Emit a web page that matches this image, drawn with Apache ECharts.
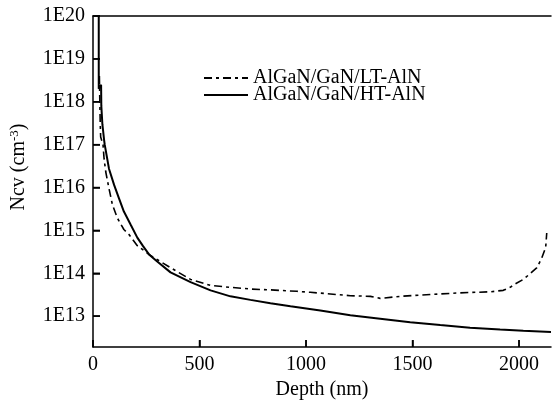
<!DOCTYPE html>
<html>
<head>
<meta charset="utf-8">
<script src="https://cdn.jsdelivr.net/npm/echarts@6/dist/echarts.min.js"></script>
<style>
  html, body { margin: 0; padding: 0; background: #fff; }
  #chart { width: 555px; height: 405px; }
</style>
</head>
<body>
<div id="chart"></div>
<script>
  // depth in nm, Ncv in cm^-3
  var ltDepth = [30, 32, 34, 36, 47, 52, 60, 75, 91, 114, 145, 169, 208, 232, 270, 364, 458, 552, 645, 739, 833, 958, 1020, 1114, 1208, 1302, 1348, 1442, 1583, 1723, 1864, 1926, 1958, 1981, 2020, 2042, 2084, 2107, 2125, 2130]
  var ltNcv = [4e18, 1e18, 3e17, 1.5e17, 1e17, 4.7e16, 2.3e16, 9.5e15, 4e15, 1.95e15, 1.05e15, 8e14, 4.4e14, 3.6e14, 2.6e14, 1.35e14, 7.2e13, 5.2e13, 4.7e13, 4.3e13, 4.1e13, 3.8e13, 3.6e13, 3.3e13, 3.0e13, 2.9e13, 2.6e13, 2.9e13, 3.2e13, 3.5e13, 3.7e13, 4e13, 4.7e13, 5.6e13, 7.2e13, 8.9e13, 1.35e14, 2.3e14, 4e14, 8.7e14]
  var htDepth = [27, 27, 38, 39, 44, 52, 55, 75, 99, 122, 145, 177, 208, 235, 263, 300, 364, 458, 552, 645, 739, 833, 927, 1067, 1208, 1348, 1489, 1630, 1770, 1911, 2020, 2150]
  var htNcv = [1e20, 2e18, 2.5e18, 8e17, 3e17, 1.3e17, 1e17, 2.75e16, 1.15e16, 5.6e15, 2.75e15, 1.35e15, 6.8e14, 4.3e14, 2.75e14, 1.9e14, 1.05e14, 6.2e13, 4e13, 2.9e13, 2.4e13, 2e13, 1.7e13, 1.35e13, 1.05e13, 8.7e12, 7.2e12, 6.2e12, 5.4e12, 4.9e12, 4.6e12, 4.3e12]
  var xTicks = [0, 500, 1000, 1500, 2000]
  var yTicks = [1e13, 1e14, 1e15, 1e16, 1e17, 1e18, 1e19, 1e20]
  var seriesNames = ['AlGaN/GaN/LT-AlN', 'AlGaN/GaN/HT-AlN']
  var xMax = 2150
  var yMin = 1.9e12
  var yMax = 1e20

  function pairs(xs, ys) {
    return xs.map(function (x, i) { return [x, ys[i]] })
  }

  var font = "'Liberation Serif', 'Times New Roman', serif"

  var myChart = echarts.init(document.getElementById('chart'))
  var legendBase = {
    orient: 'vertical',
    padding: 0,
    itemWidth: 44, itemHeight: 14,
    itemStyle: { opacity: 0 },
    textStyle: { fontFamily: font, fontSize: 20, color: '#000' }
  }
  var option = {
    animation: false,
    textStyle: { fontFamily: font, color: '#000' },
    grid: { left: 93, top: 16, right: 4, bottom: 54 },
    legend: [
      Object.assign({ data: [seriesNames[0]], left: 203, top: 68 }, legendBase),
      Object.assign({ data: [seriesNames[1]], left: 203, top: 85 }, legendBase)
    ],
    xAxis: [
      {
        type: 'value', min: 0, max: xMax, interval: 500,
        name: 'Depth (nm)', nameLocation: 'middle', nameGap: 25,
        nameTextStyle: { fontFamily: font, fontSize: 20, color: '#000' },
        axisLine: { lineStyle: { color: '#000', width: 1.5 } },
        axisTick: { show: true, inside: true, length: 7, lineStyle: { color: '#000', width: 1.5 } },
        axisLabel: {
          showMaxLabel: false, margin: 8, fontFamily: font, fontSize: 20, color: '#000',
          formatter: function (value) {
            return xTicks.indexOf(value) >= 0 ? String(value) : ''
          }
        },
        splitLine: { show: false }
      },
      {
        type: 'value', min: 0, max: xMax, position: 'top',
        axisLine: { show: true, onZero: false, lineStyle: { color: '#000', width: 1.5 } },
        axisTick: { show: false },
        axisLabel: { show: false },
        splitLine: { show: false }
      }
    ],
    yAxis: {
      type: 'log', logBase: 10, min: yMin, max: yMax,
      axisLine: { show: true, lineStyle: { color: '#000', width: 1.5 } },
      axisTick: { show: true, inside: true, length: 7, lineStyle: { color: '#000', width: 1.5 } },
      axisLabel: {
        showMinLabel: false, margin: 8, fontFamily: font, fontSize: 20, color: '#000',
        formatter: function (value) {
          var e = Math.log10(value)
          return Math.abs(e - Math.round(e)) < 1e-6 ? '1E' + Math.round(e) : ''
        }
      },
      splitLine: { show: false }
    },
    graphic: [
      {
        type: 'text', x: 19, y: 167, rotation: Math.PI / 2,
        style: {
          text: '{a|Ncv (cm}{s|-3}{a|)}',
          align: 'center', verticalAlign: 'middle',
          fill: '#000',
          rich: {
            a: { fontFamily: font, fontSize: 20, lineHeight: 22, fill: '#000' },
            s: { fontFamily: font, fontSize: 13, verticalAlign: 'top', fill: '#000' }
          }
        }
      }
    ],
    series: [
      {
        name: seriesNames[0], type: 'line', symbol: 'none', showSymbol: false,
        data: pairs(ltDepth, ltNcv),
        itemStyle: { color: '#000' },
        lineStyle: { color: '#000', width: 1.6, type: [8, 4, 3, 4] }
      },
      {
        name: seriesNames[1], type: 'line', symbol: 'none', showSymbol: false,
        data: pairs(htDepth, htNcv),
        itemStyle: { color: '#000' },
        lineStyle: { color: '#000', width: 2 }
      }
    ]
  }
  myChart.setOption(option)

  // short inward tick marks at the labelled values, located through the axis scales
  var tickLen = 7
  var yBase = myChart.convertToPixel({ yAxisIndex: 0 }, yMin)
  var xBase = myChart.convertToPixel({ xAxisIndex: 0 }, 0)
  var tickLines = []
  xTicks.forEach(function (v) {
    var px = myChart.convertToPixel({ xAxisIndex: 0 }, v)
    tickLines.push({ type: 'line', z: 10, shape: { x1: px, y1: yBase, x2: px, y2: yBase - tickLen }, style: { stroke: '#000', lineWidth: 1.5 } })
  })
  yTicks.forEach(function (v) {
    var py = myChart.convertToPixel({ yAxisIndex: 0 }, v)
    tickLines.push({ type: 'line', z: 10, shape: { x1: xBase, y1: py, x2: xBase + tickLen, y2: py }, style: { stroke: '#000', lineWidth: 1.5 } })
  })
  myChart.setOption({ graphic: option.graphic.concat(tickLines) })
</script>
</body>
</html>
